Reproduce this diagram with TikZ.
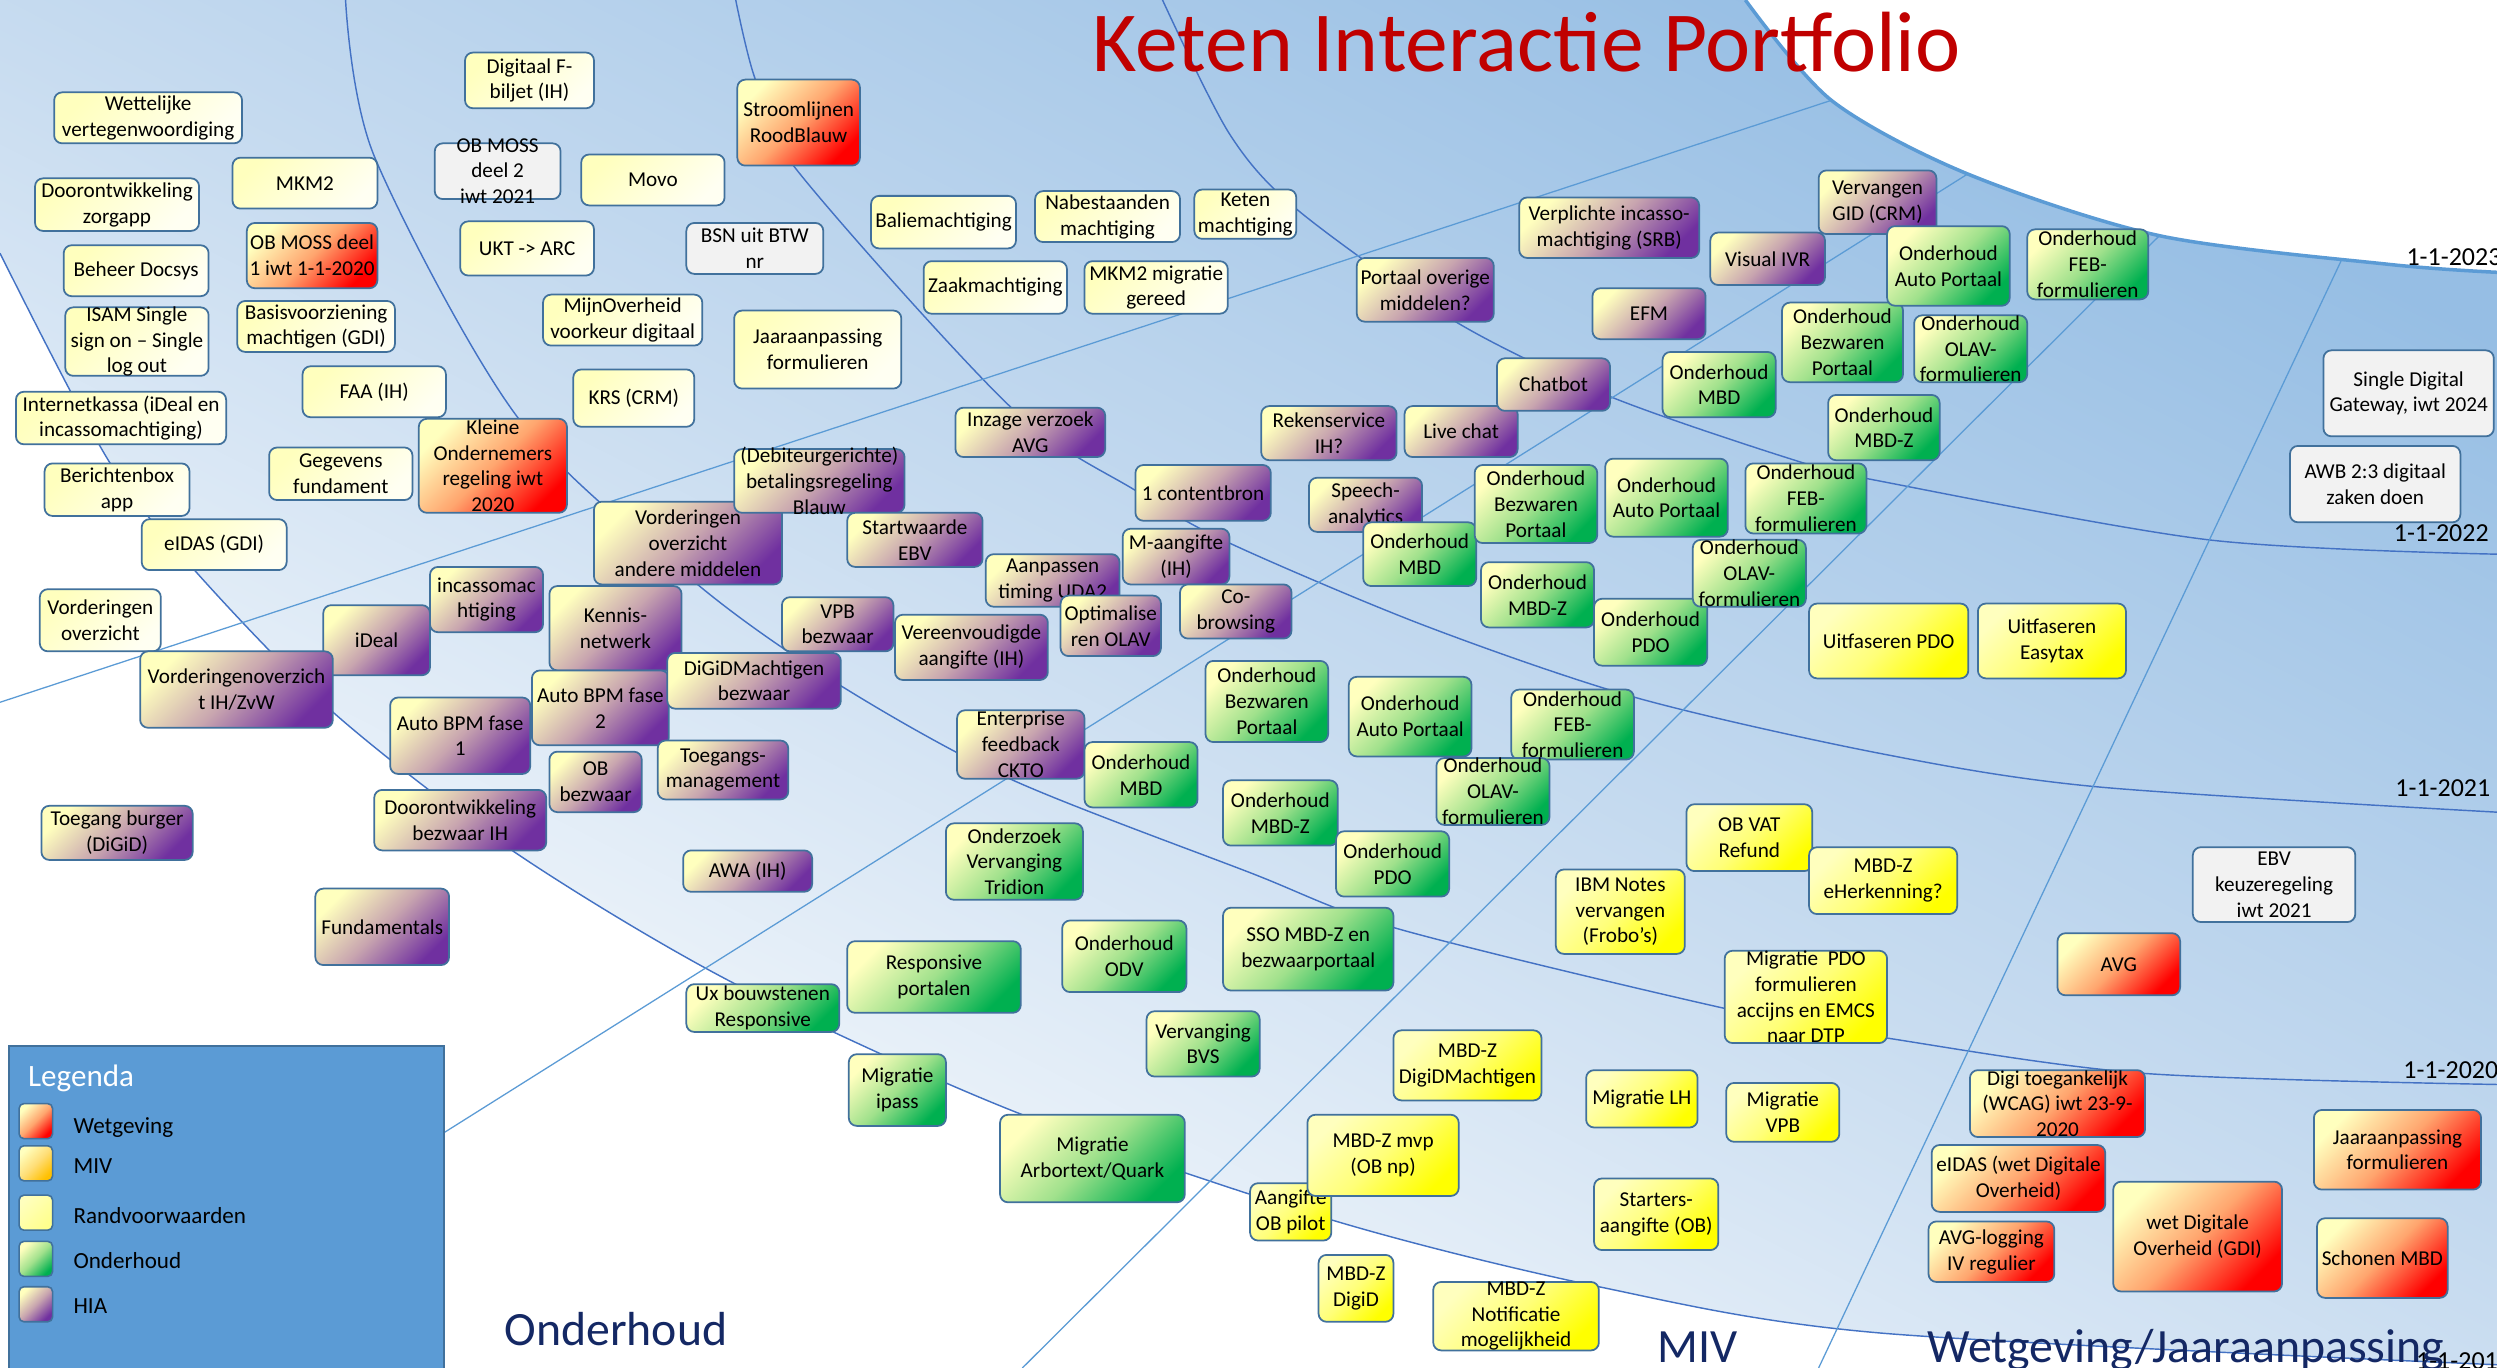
\documentclass[tikz,border=0pt]{standalone}
\usepackage{fontspec}
\setmainfont{Carlito}
\usepackage{xcolor}

\definecolor{boxline}{RGB}{65,113,156}
\definecolor{ringline}{RGB}{68,114,196}
\definecolor{spokeline}{RGB}{91,155,213}
\definecolor{bgblue}{RGB}{150,190,228}
\definecolor{bgmid}{RGB}{200,220,240}
\definecolor{paletop}{RGB}{255,255,190}
\definecolor{randbot}{RGB}{255,255,242}
\definecolor{wetred}{RGB}{255,0,0}
\definecolor{wetmid}{RGB}{255,165,110}
\definecolor{mivyel}{RGB}{255,255,0}
\definecolor{mivmid}{RGB}{255,255,120}
\definecolor{ondgreen}{RGB}{0,176,80}
\definecolor{ondmid}{RGB}{160,225,140}
\definecolor{hiapurple}{RGB}{112,48,160}
\definecolor{hiamid}{RGB}{200,165,175}
\definecolor{greybox}{RGB}{242,242,242}
\definecolor{legblue}{RGB}{91,155,213}
\definecolor{legorange}{RGB}{255,192,0}
\definecolor{legorangemid}{RGB}{255,222,120}
\definecolor{legrand}{RGB}{255,255,140}
\definecolor{titlered}{RGB}{192,0,0}
\definecolor{navy}{RGB}{20,40,100}

\tikzset{
  sz/.style 2 args={minimum width=#1pt, minimum height=#2pt},
  box/.style={rectangle, rounded corners=5pt, draw=boxline, line width=1.1pt, align=center,
    inner xsep=1pt, inner ysep=0pt, text=black, font=\fontsize{13.3}{16.2}\selectfont},
  rand/.style={box, top color=paletop, bottom color=randbot, shading angle=45},
  wet/.style={box, top color=paletop, bottom color=wetred, middle color=wetmid, shading angle=45},
  miv/.style={box, top color=paletop, bottom color=mivyel, middle color=mivmid, shading angle=45},
  ond/.style={box, top color=paletop, bottom color=ondgreen, middle color=ondmid, shading angle=45},
  hia/.style={box, top color=paletop, bottom color=hiapurple, middle color=hiamid, shading angle=45},
  grijs/.style={box, fill=greybox},
  swatch/.style={sz={21}{22}, rounded corners=3pt, line width=1pt},
  ring/.style={draw=ringline, line width=0.9pt},
  spoke/.style={draw=spokeline, line width=0.8pt},
  datum/.style={anchor=base west, inner sep=0pt, font=\fontsize{16.3}{19}\selectfont},
  sector/.style={anchor=base west, inner sep=0pt, text=navy, font=\fontsize{30}{36}\selectfont},
  legtekst/.style={anchor=base west, inner sep=0pt, font=\fontsize{14.5}{17}\selectfont},
}

\begin{document}
\begin{tikzpicture}[x=1pt, y=-1pt]
\useasboundingbox (0,0) rectangle (1568,859);
\fill[white] (0,0) rectangle (1568,859);

\shade[top color=bgblue, bottom color=white, middle color=bgmid, shading angle=-27]
  (0,159) -- (0,0) -- plot[smooth] coordinates {(1096,0) (1150,63) (1235,109) (1356,148) (1500,166) (1568,171)}
  -- (1568,857) -- plot[smooth] coordinates {(1568,857) (1180,837) (1004,808) (836,766) (637,698) (460,617) (323,535) (210,448) (123,359) (68,289) (0,159)} -- cycle;

\draw[ring] plot[smooth] coordinates {(0,159) (68,289) (123,359) (210,448) (323,535) (460,617) (637,698) (836,766) (1004,808) (1180,837) (1568,857)};
\draw[ring] plot[smooth] coordinates {(217,0) (235,98) (325,262) (438,367) (527,430) (634,489) (785,548) (877,583) (1082,633) (1186,652) (1346,674) (1568,681)};
\draw[ring] plot[smooth] coordinates {(462,0) (474,49) (499,105) (634,255) (713,308) (772,341) (895,393) (1027,438) (1180,473) (1316,494) (1568,510)};
\draw[ring] plot[smooth] coordinates {(730,0) (772,84) (815,132) (914,202) (1011,249) (1127,289) (1180,302) (1387,339) (1568,348)};
\draw[spokeline, line width=2.2pt] plot[smooth] coordinates {(1096,0) (1150,63) (1235,109) (1356,148) (1500,166) (1568,171)};

\draw[spoke] (0,441) -- (1150,63);
\draw[spoke] (44,859) -- (1236,109);
\draw[spoke] (642,859) -- (1356,148);
\draw[spoke] (1142,859) -- (1470,164);

\node[datum] (d2023) at (1511,167) {1-1-2023};
\node[datum] (d2022) at (1503,340) {1-1-2022};
\node[datum] (d2021) at (1504,500) {1-1-2021};
\node[datum] (d2020) at (1509,677) {1-1-2020};
\node[datum] (d2019) at (1517,860) {1-1-2019};

\node[rand, sz={118}{32}] (wettelijk) at (93,74) {Wettelijke\\vertegenwoordiging};
\node[rand, sz={81}{35}] (fbiljet) at (332.5,50.5) {Digitaal F-\\biljet (IH)};
\node[rand, sz={91}{32}] (mkmtwee) at (191.5,115) {MKM2};
\node[rand, sz={103}{33}] (zorgapp) at (73.5,128.5) {Doorontwikkeling\\zorgapp};
\node[grijs, sz={79}{35}, inner ysep=-3.5pt] (mossdeel2) at (312.5,107.5) {OB MOSS\\deel 2\\iwt 2021};
\node[wet, sz={82}{41}] (mossdeel1) at (196,160.5) {OB MOSS deel\\1 iwt 1-1-2020};
\node[rand, sz={84}{34}] (ukt) at (331,156) {UKT -> ARC};
\node[rand, sz={91}{32}] (docsys) at (85.5,170) {Beheer Docsys};
\node[rand, sz={90}{43}, inner ysep=-1pt] (isam) at (86,214.5) {ISAM Single\\sign on – Single\\log out};
\node[rand, sz={99}{32}] (basisvz) at (198.5,205) {Basisvoorziening\\machtigen (GDI)};
\node[rand, sz={100}{32}] (mijnoverheid) at (391,201) {MijnOverheid\\voorkeur digitaal};
\node[rand, sz={90}{32}] (faa) at (235,246) {FAA (IH)};
\node[rand, sz={76}{36}] (krs) at (398,250) {KRS (CRM)};
\node[rand, sz={132}{33}] (internetkassa) at (76,262.5) {Internetkassa (iDeal en\\incassomachtiging)};
\node[wet, sz={93}{59}] (kor) at (309.5,292.5) {Kleine\\Ondernemers\\regeling iwt\\2020};
\node[rand, sz={90}{33}] (gegevens) at (214,297.5) {Gegevens\\fundament};
\node[wet, sz={77}{54}] (stroomlijnen) at (501.5,77) {Stroomlijnen\\RoodBlauw};
\node[rand, sz={90}{32}] (movo) at (410,113) {Movo};
\node[grijs, sz={86}{32}] (bsn) at (474,156) {BSN uit BTW\\nr};
\node[rand, sz={91}{33}] (balie) at (592.5,139.5) {Baliemachtiging};
\node[rand, sz={91}{32}] (nabestaanden) at (695.5,136) {Nabestaanden\\machtiging};
\node[rand, sz={64}{31}] (ketenm) at (782,134.5) {Keten\\machtiging};
\node[rand, sz={90}{33}] (zaakm) at (625,180.5) {Zaakmachtiging};
\node[rand, sz={90}{33}] (mkmmigratie) at (726,180.5) {MKM2 migratie\\gereed};
\node[rand, sz={105}{49}] (jaarform) at (513.5,219.5) {Jaaraanpassing\\formulieren};
\node[rand, sz={91}{33}] (berichtenbox) at (73.5,307.5) {Berichtenbox\\app};
\node[rand, sz={91}{32}] (eidas) at (134.5,342) {eIDAS (GDI)};
\node[rand, sz={76}{39}] (vordov) at (63,389.5) {Vorderingen\\overzicht};

\node[hia, sz={94}{31}] (inzage) at (647,271.5) {Inzage verzoek\\AVG};
\node[hia, sz={118}{52}] (vordandere) at (432,341) {Vorderingen\\overzicht\\andere middelen};
\node[hia, sz={107}{40}, inner ysep=-1.5pt] (debiteur) at (514.5,302) {(Debiteurgerichte)\\betalingsregeling\\Blauw};
\node[hia, sz={86}{40}] (portaal) at (895,182) {Portaal overige\\middelen?};
\node[hia, sz={113}{38}] (srb) at (1010.5,143) {Verplichte incasso-\\machtiging (SRB)};
\node[hia, sz={72}{33}] (ivr) at (1110,162.5) {Visual IVR};
\node[hia, sz={74}{40}] (gid) at (1179,127) {Vervangen\\GID (CRM)};
\node[hia, sz={71}{32}] (efm) at (1035.5,197) {EFM};
\node[hia, sz={71}{32}] (livechat) at (917.5,271) {Live chat};
\node[hia, sz={71}{33}] (chatbot) at (975.5,241.5) {Chatbot};
\node[hia, sz={85}{34}] (rekenservice) at (834.5,272) {Rekenservice\\IH?};
\node[hia, sz={67}{44}] (ideal) at (236.5,402) {iDeal};
\node[hia, sz={121}{48}] (vordih) at (148.5,433) {Vorderingenoverzich\\t IH/ZvW};
\node[hia, sz={71}{41}] (incasso) at (305.5,376.5) {incassomac\\htiging};
\node[hia, sz={83}{53}] (kennis) at (386.5,394.5) {Kennis-\\netwerk};
\node[hia, sz={88}{48}] (bpm1) at (289,462) {Auto BPM fase\\1};
\node[hia, sz={86}{47}] (bpm2) at (377,444.5) {Auto BPM fase\\2};
\node[hia, sz={58}{38}] (obbezwaar) at (374,491) {OB\\bezwaar};
\node[hia, sz={108}{38}] (doorbezw) at (289,515) {Doorontwikkeling\\bezwaar IH};
\node[hia, sz={95}{34}] (toegangburger) at (73.5,523) {Toegang burger\\(DiGiD)};
\node[hia, sz={84}{48}] (fundamentals) at (240,582) {Fundamentals};
\node[hia, sz={85}{34}] (startebv) at (574.5,339) {Startwaarde\\EBV};
\node[hia, sz={70}{34}] (vpbbezw) at (526,392) {VPB\\bezwaar};
\node[hia, sz={109}{35}] (digidbezw) at (473.5,427.5) {DiGiDMachtigen\\bezwaar};
\node[hia, sz={82}{37}] (toegangsmgmt) at (454,483.5) {Toegangs-\\management};
\node[hia, sz={96}{41}] (vereenv) at (610,406.5) {Vereenvoudigde\\aangifte (IH)};
\node[hia, sz={84}{33}] (uda) at (661,364.5) {Aanpassen\\timing UDA2};
\node[hia, sz={63}{38}] (olavopt) at (697.5,393) {Optimalise\\ren OLAV};
\node[hia, sz={67}{35}] (maangifte) at (738.5,349.5) {M-aangifte\\(IH)};
\node[hia, sz={85}{35}] (contentbron) at (755.5,309.5) {1 contentbron};
\node[hia, sz={70}{34}] (cobrowsing) at (776,384) {Co-\\browsing};
\node[hia, sz={80}{43}] (ckto) at (641,467.5) {Enterprise\\feedback\\CKTO};
\node[hia, sz={81}{26}] (awa) at (469.5,547) {AWA (IH)};
\node[hia, sz={71}{34}] (speech) at (857.5,317) {Speech-\\analytics};

\node[ond, sz={71}{41}] (mbdA) at (1079.5,241.5) {Onderhoud\\MBD};
\node[ond, sz={76}{50}] (bezwA) at (1157,215) {Onderhoud\\Bezwaren\\Portaal};
\node[ond, sz={77}{50}] (autoA) at (1223.5,167) {Onderhoud\\Auto Portaal};
\node[ond, sz={76}{44}] (febA) at (1311,166) {Onderhoud\\FEB-\\formulieren};
\node[ond, sz={71}{42}] (olavA) at (1237.5,219) {Onderhoud\\OLAV-\\formulieren};
\node[ond, sz={70}{41}] (mbdzA) at (1183,268.5) {Onderhoud\\MBD-Z};
\node[ond, sz={71}{41}] (mbdB) at (716.5,486.5) {Onderhoud\\MBD};
\node[ond, sz={86}{48}] (tridion) at (637,541) {Onderzoek\\Vervanging\\Tridion};
\node[ond, sz={71}{40}] (mbdC) at (891.5,348) {Onderhoud\\MBD};
\node[ond, sz={77}{49}] (bezwC) at (964.5,316.5) {Onderhoud\\Bezwaren\\Portaal};
\node[ond, sz={77}{49}] (autoC) at (1046.5,312.5) {Onderhoud\\Auto Portaal};
\node[ond, sz={76}{44}] (febC) at (1134,313) {Onderhoud\\FEB-\\formulieren};
\node[ond, sz={71}{41}] (mbdzC) at (965.5,373.5) {Onderhoud\\MBD-Z};
\node[ond, sz={71}{42}] (pdoC) at (1036.5,397) {Onderhoud\\PDO};
\node[ond, sz={71}{42}] (olavC) at (1098.5,360) {Onderhoud\\OLAV-\\formulieren};
\node[ond, sz={77}{51}] (bezwD) at (795.5,440.5) {Onderhoud\\Bezwaren\\Portaal};
\node[ond, sz={77}{50}] (autoD) at (885.5,450) {Onderhoud\\Auto Portaal};
\node[ond, sz={77}{44}] (febD) at (987.5,455) {Onderhoud\\FEB-\\formulieren};
\node[ond, sz={71}{42}] (olavD) at (937.5,497) {Onderhoud\\OLAV-\\formulieren};
\node[ond, sz={72}{41}] (mbdzD) at (804,510.5) {Onderhoud\\MBD-Z};
\node[ond, sz={71}{41}] (pdoD) at (874.5,542.5) {Onderhoud\\PDO};
\node[ond, sz={96}{30}] (ux) at (479,633) {Ux bouwstenen\\Responsive};
\node[ond, sz={109}{45}] (responsive) at (586.5,613.5) {Responsive\\portalen};
\node[ond, sz={78}{45}] (odv) at (706,600.5) {Onderhoud\\ODV};
\node[ond, sz={107}{52}] (sso) at (821.5,596) {SSO MBD-Z en\\bezwaarportaal};
\node[ond, sz={71}{41}] (bvs) at (755.5,655.5) {Vervanging\\BVS};
\node[ond, sz={61}{45}] (ipass) at (563.5,684.5) {Migratie\\ipass};
\node[ond, sz={116}{55}] (arbortext) at (686,727.5) {Migratie\\Arbortext/Quark};

\node[miv, sz={100}{47}] (uitpdo) at (1186,402.5) {Uitfaseren PDO};
\node[miv, sz={93}{47}] (easytax) at (1288.5,402.5) {Uitfaseren\\Easytax};
\node[miv, sz={79}{42}] (obvat) at (1098.5,526) {OB VAT\\Refund};
\node[miv, sz={81}{53}] (ibmnotes) at (1017.5,572.5) {IBM Notes\\vervangen\\(Frobo’s)};
\node[miv, sz={93}{42}] (eherkenning) at (1182.5,553) {MBD-Z\\eHerkenning?};
\node[miv, sz={102}{58}] (migpdo) at (1134,626) {Migratie\ \ PDO\\formulieren\\accijns en EMCS\\naar DTP};
\node[miv, sz={93}{44}] (mbdzdigidm) at (921.5,669) {MBD-Z\\DigiDMachtigen};
\node[miv, sz={70}{36}] (miglh) at (1031,690) {Migratie LH};
\node[miv, sz={71}{37}] (migvpb) at (1119.5,698.5) {Migratie\\VPB};
\node[miv, sz={51}{36}] (obpilot) at (810.5,761) {Aangifte\\OB pilot};
\node[miv, sz={95}{51}] (mbdzmvp) at (868.5,725.5) {MBD-Z mvp\\(OB np)};
\node[miv, sz={78}{45}] (starters) at (1040,762.5) {Starters-\\aangifte (OB)};
\node[miv, sz={47}{42}] (mbdzdigid) at (851.5,809) {MBD-Z\\DigiD};
\node[miv, sz={104}{43}, inner ysep=-1pt] (notificatie) at (952,826.5) {MBD-Z\\Notificatie\\mogelijkheid};

\node[wet, sz={77}{39}] (avg) at (1330.5,605.5) {AVG};
\node[wet, sz={110}{42}] (wcag) at (1292,693) {Digi toegankelijk\\(WCAG) iwt 23-9-\\2020};
\node[wet, sz={109}{42}] (eidaswet) at (1267.5,740) {eIDAS (wet Digitale\\Overheid)};
\node[wet, sz={79}{38}] (avglog) at (1250.5,786) {AVG-logging\\IV regulier};
\node[wet, sz={106}{69}] (wdo) at (1380,776.5) {wet Digitale\\Overheid (GDI)};
\node[wet, sz={105}{50}] (jaarformR) at (1505.5,722) {Jaaraanpassing\\formulieren};
\node[wet, sz={82}{50}] (schonen) at (1496,790) {Schonen MBD};

\node[grijs, sz={107}{54}] (sdg) at (1512.5,247) {Single Digital\\Gateway, iwt 2024};
\node[grijs, sz={107}{48}] (awb) at (1491.5,304) {AWB 2:3 digitaal\\zaken doen};
\node[grijs, sz={102}{47}] (ebvkeuze) at (1428,555.5) {EBV\\keuzeregeling\\iwt 2021};

\node[draw=boxline, fill=legblue, line width=1.2pt, minimum width=273pt, minimum height=215pt,
  anchor=north west, inner sep=0pt] (legenda) at (5,656) {};
\node[anchor=base west, inner sep=0pt, text=white, font=\fontsize{19.5}{23}\selectfont] (legtitel) at (17.5,682) {Legenda};
\node[wet, swatch] (swwet) at (22.5,704) {};
\node[box, swatch, top color=paletop, bottom color=legorange, middle color=legorangemid, shading angle=45] (swmiv) at (22.5,730.5) {};
\node[box, swatch, top color=paletop, bottom color=legrand, shading angle=45] (swrand) at (22.5,761.5) {};
\node[ond, swatch] (swond) at (22.5,790.5) {};
\node[hia, swatch] (swhia) at (22.5,819) {};
\node[legtekst] (txwet) at (46,711.6) {Wetgeving};
\node[legtekst] (txmiv) at (46,736.7) {MIV};
\node[legtekst] (txrand) at (46,768) {Randvoorwaarden};
\node[legtekst] (txond) at (46,796.4) {Onderhoud};
\node[legtekst] (txhia) at (46,824.6) {HIA};

\node[sector] (lblond) at (316.6,845) {Onderhoud};
\node[sector] (lblmiv) at (1040.5,855.5) {MIV};
\node[sector] (lblwet) at (1210,855.5) {Wetgeving/Jaaraanpassing};

\node[anchor=base west, inner sep=0pt, text=titlered, font=\fontsize{53.7}{64}\selectfont] (titel) at (686,45) {Keten Interactie Portfolio};
\end{tikzpicture}
\end{document}
